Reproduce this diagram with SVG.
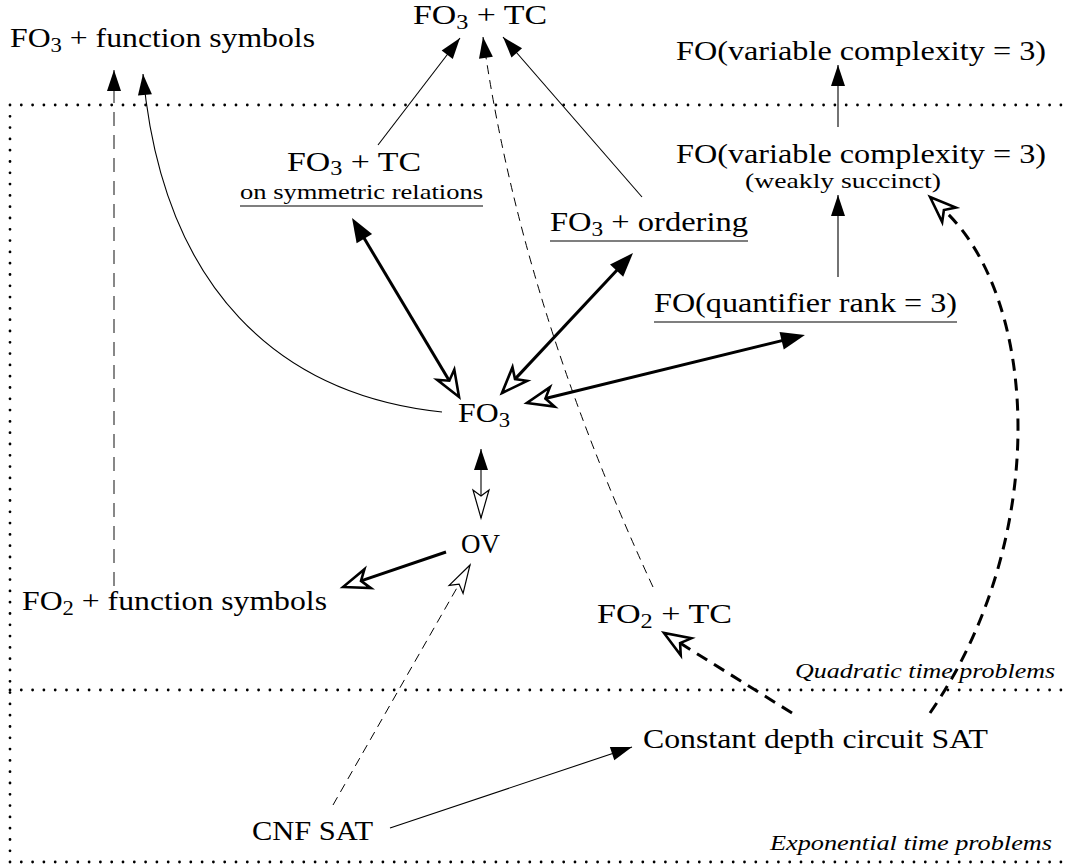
<svg xmlns="http://www.w3.org/2000/svg" width="1065" height="866" viewBox="0 0 1065 866">
<style>
.frame{fill:none;stroke:#000;stroke-width:2.8;stroke-linecap:round;stroke-dasharray:0 11.3;}
.ul{stroke:#000;stroke-width:1.2;}
.thin{fill:none;stroke:#000;stroke-width:1.1;}
.thick{fill:none;stroke:#000;stroke-width:3;}
.dthin{fill:none;stroke:#000;stroke-width:1;stroke-dasharray:9 6;}
.dgray{fill:none;stroke:#555;stroke-width:1.4;stroke-dasharray:14 9;}
.dthick{fill:none;stroke:#000;stroke-width:3;stroke-dasharray:12 8;}
</style>
<defs>
<marker id="fh" markerUnits="userSpaceOnUse" markerWidth="40" markerHeight="40" viewBox="-30 -20 40 40" refX="0" refY="0" orient="auto-start-reverse" overflow="visible">
<path d="M0,0 L-21,-7 L-21,7 Z" fill="#000"/>
</marker>
<marker id="fhT" markerUnits="userSpaceOnUse" markerWidth="40" markerHeight="40" viewBox="-30 -20 40 40" refX="-12" refY="0" orient="auto-start-reverse" overflow="visible">
<path d="M0,0 L-24,-9 L-24,9 Z" fill="#000"/>
</marker>
<marker id="ohT" markerUnits="userSpaceOnUse" markerWidth="40" markerHeight="40" viewBox="-30 -20 40 40" refX="-19" refY="0" orient="auto" overflow="visible">
<path d="M0,0 L-26,-10 L-19,0 L-26,10 Z" fill="#fff" stroke="#000" stroke-width="2.6" stroke-linejoin="miter"/>
</marker>
<marker id="oh" markerUnits="userSpaceOnUse" markerWidth="40" markerHeight="40" viewBox="-30 -20 40 40" refX="0" refY="0" orient="auto" overflow="visible">
<path d="M0,0 L-28,-8 L-22,0 L-28,8 Z" fill="#fff" stroke="#000" stroke-width="1.2"/>
</marker>
</defs>
<rect width="1065" height="866" fill="#fff"/>

<g id="regions">
<path class="frame" d="M10 105 H1065 M10 690 H1065 M10 862 H1065 M10 105 V862"/>
<text font-family="Liberation Serif" font-style="italic" font-size="21" x="795" y="678" textLength="260" lengthAdjust="spacingAndGlyphs">Quadratic time problems</text>
<text font-family="Liberation Serif" font-style="italic" font-size="21" x="770" y="850" textLength="282" lengthAdjust="spacingAndGlyphs">Exponential time problems</text>
</g>

<g id="connectors">
<path class="dgray" d="M114 586 L114 70" marker-end="url(#fh)"/>
<path class="thin" d="M442 412 C280 395 163 290 143 74" marker-end="url(#fh)"/>
<path class="thin" d="M378 145 L460 38" marker-end="url(#fh)"/>
<path class="dthin" d="M653 587 Q520 300 483 37" marker-end="url(#fh)"/>
<path class="thin" d="M642 197 L503 37" marker-end="url(#fh)"/>
<path class="thin" d="M838 127 L838 65" marker-end="url(#fh)"/>
<path class="thin" d="M838 277 L838 195" marker-end="url(#fh)"/>
<path class="thick" d="M358.2 228.3 L449.3 380.7" marker-start="url(#fhT)" marker-end="url(#ohT)"/>
<path class="thick" d="M624.8 261.8 L515 379.1" marker-start="url(#fhT)" marker-end="url(#ohT)"/>
<path class="thick" d="M793.3 337.9 L545.4 398.5" marker-start="url(#fhT)" marker-end="url(#ohT)"/>
<path class="thin" d="M481 449 L481 518" marker-start="url(#fh)" marker-end="url(#oh)"/>
<path class="thick" d="M446 552 L361 580.9" marker-end="url(#ohT)"/>
<path class="dthin" d="M333 805 L470 565" marker-end="url(#oh)"/>
<path class="dthick" d="M792 713 L680.1 643.1" marker-end="url(#ohT)"/>
<path class="dthick" d="M930 713 C1050 540 1040 300 943.9 210" marker-end="url(#ohT)"/>
<path class="thin" d="M390 828 L632 747" marker-end="url(#fh)"/>
</g>

<g id="nodes">
<g id="fo3-function-symbols">
<text font-family="Liberation Serif" font-size="28" x="10" y="47" textLength="305" lengthAdjust="spacingAndGlyphs">FO<tspan font-size="20" dy="5">3</tspan><tspan dy="-5"> + function symbols</tspan></text>
</g>
<g id="fo3-tc">
<text font-family="Liberation Serif" font-size="28" x="413" y="24" textLength="134" lengthAdjust="spacingAndGlyphs">FO<tspan font-size="20" dy="5">3</tspan><tspan dy="-5"> + TC</tspan></text>
</g>
<g id="fo-var-complexity">
<text font-family="Liberation Serif" font-size="28" x="676" y="60" textLength="370" lengthAdjust="spacingAndGlyphs">FO(variable complexity = 3)</text>
</g>
<g id="fo3-tc-symmetric">
<text font-family="Liberation Serif" font-size="28" x="287" y="171" textLength="134" lengthAdjust="spacingAndGlyphs">FO<tspan font-size="20" dy="4">3</tspan><tspan dy="-4"> + TC</tspan></text>
<text font-family="Liberation Serif" font-size="22" x="240" y="199" textLength="243" lengthAdjust="spacingAndGlyphs">on symmetric relations</text>
<line class="ul" x1="240" y1="206" x2="483" y2="206"/>
</g>
<g id="fo-var-complexity-weak">
<text font-family="Liberation Serif" font-size="28" x="676" y="163" textLength="370" lengthAdjust="spacingAndGlyphs">FO(variable complexity = 3)</text>
<text font-family="Liberation Serif" font-size="22" x="745" y="188" textLength="196" lengthAdjust="spacingAndGlyphs">(weakly succinct)</text>
</g>
<g id="fo3-ordering">
<text font-family="Liberation Serif" font-size="28" x="550" y="231" textLength="198" lengthAdjust="spacingAndGlyphs">FO<tspan font-size="20" dy="5">3</tspan><tspan dy="-5"> + ordering</tspan></text>
<line class="ul" x1="550" y1="241" x2="748" y2="241"/>
</g>
<g id="fo-quantifier-rank">
<text font-family="Liberation Serif" font-size="28" x="654" y="312" textLength="303" lengthAdjust="spacingAndGlyphs">FO(quantifier rank = 3)</text>
<line class="ul" x1="654" y1="322" x2="957" y2="322"/>
</g>
<g id="fo3">
<text font-family="Liberation Serif" font-size="28" x="458" y="422" textLength="52" lengthAdjust="spacingAndGlyphs">FO<tspan font-size="20" dy="5">3</tspan></text>
</g>
<g id="ov">
<text font-family="Liberation Serif" font-size="28" x="461" y="553" textLength="39" lengthAdjust="spacingAndGlyphs">OV</text>
</g>
<g id="fo2-function-symbols">
<text font-family="Liberation Serif" font-size="28" x="22" y="610" textLength="305" lengthAdjust="spacingAndGlyphs">FO<tspan font-size="20" dy="5">2</tspan><tspan dy="-5"> + function symbols</tspan></text>
</g>
<g id="fo2-tc">
<text font-family="Liberation Serif" font-size="28" x="597" y="623" textLength="135" lengthAdjust="spacingAndGlyphs">FO<tspan font-size="20" dy="5">2</tspan><tspan dy="-5"> + TC</tspan></text>
</g>
<g id="constant-depth-circuit-sat">
<text font-family="Liberation Serif" font-size="28" x="643" y="748" textLength="345" lengthAdjust="spacingAndGlyphs">Constant depth circuit SAT</text>
</g>
<g id="cnf-sat">
<text font-family="Liberation Serif" font-size="28" x="252" y="840" textLength="121" lengthAdjust="spacingAndGlyphs">CNF SAT</text>
</g>
</g>
</svg>
